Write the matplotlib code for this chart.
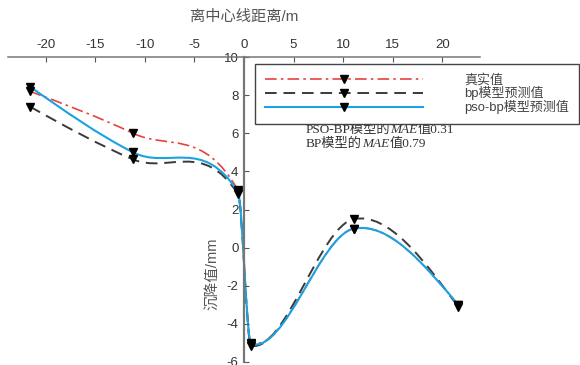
import matplotlib.pyplot as plt
import numpy as np
from matplotlib.path import Path
from matplotlib.patches import PathPatch
from matplotlib.lines import Line2D
from matplotlib.offsetbox import TextArea, HPacker, AnnotationBbox

plt.rcParams['axes.unicode_minus'] = False

# 离中心线距离 (m) and 沉降值 (mm)
dist = [-21.6, -11.2, -0.6, 0.7, 11.1, 21.6]
real = [8.2, 6.0, 3.0, -5.0, 1.0, -3.0]
bp_pred = [7.4, 4.63, 2.8, -5.15, 1.5, -3.1]
pso_pred = [8.45, 5.0, 2.9, -5.05, 1.0, -3.0]
labels = ['真实值', 'bp模型预测值', 'pso-bp模型预测值']
mae_pso = '0.31'
mae_bp = '0.79'

cjk = ['Liberation Sans', 'Noto Sans CJK SC']
serif = ['Liberation Serif', 'Noto Sans CJK SC']


def smooth_path(x, y):
    # smooth bezier curve through the measured points
    x = np.asarray(x, float)
    y = np.asarray(y, float)
    d = np.diff(y) / np.diff(x)
    m = np.empty_like(x)
    m[1:-1] = (y[2:] - y[:-2]) / (x[2:] - x[:-2])
    m[0] = (3 * d[0] - m[1]) / 2
    m[-1] = (3 * d[-1] - m[-2]) / 2
    verts = [(x[0], y[0])]
    codes = [Path.MOVETO]
    for i in range(len(x) - 1):
        h = (x[i + 1] - x[i]) / 3
        verts += [(x[i] + h, y[i] + h * m[i]),
                  (x[i + 1] - h, y[i + 1] - h * m[i + 1]),
                  (x[i + 1], y[i + 1])]
        codes += [Path.CURVE4] * 3
    return Path(verts, codes)


fig = plt.figure(figsize=(5.8, 3.65), dpi=100)
ax = fig.add_axes([8 / 580, 3 / 365, 472 / 580, 305 / 365])

styles = [
    dict(color='#e8413f', lw=1.2, ls=(0, (7, 2.5, 1.5, 2.5))),
    dict(color='#3a3a3a', lw=1.4, ls=(0, (6, 3.5))),
    dict(color='#1aa3e0', lw=1.5, ls='-'),
]
series = [real, bp_pred, pso_pred]

for ys, st in zip(series, styles):
    ax.add_patch(PathPatch(smooth_path(dist, ys), fill=False, edgecolor=st['color'],
                           lw=st['lw'], ls=st['ls']))
for ys in series:
    ax.plot(dist, ys, ls='none', marker='v', ms=5.5, color='k', zorder=5)

ax.set_xlim(-23.8, 23.8)
ax.set_ylim(-6, 10)
ax.set_xticks(np.arange(-20, 21, 5))
ax.set_yticks(np.arange(-6, 11, 2))

ax.spines['left'].set_position(('data', 0))
ax.spines['right'].set_visible(False)
ax.spines['bottom'].set_visible(False)
ax.spines['left'].set_color('#777')
ax.spines['left'].set_linewidth(1.6)
ax.spines['top'].set_color('#777')
ax.spines['top'].set_linewidth(1.1)
ax.xaxis.tick_top()
ax.tick_params(direction='in', length=3.5, width=0.8, colors='#555', labelsize=9.5,
               labelcolor='#333', pad=4)
for t in ax.get_xticklabels() + ax.get_yticklabels():
    t.set_family('Liberation Sans')

fig.text(244 / 580, 1 - 17 / 365, '离中心线距离/m', family=cjk, size=11, color='#555',
         ha='center', va='center')
fig.text(213 / 580, 1 - 274 / 365, '沉降值/mm', family=cjk, size=10.5, color='#555',
         rotation=90, ha='center', va='center')

handles = [Line2D([], [], color=st['color'], lw=st['lw'], ls=st['ls'], marker='v', ms=5.5,
                  mfc='k', mec='k') for st in styles]
leg = fig.legend(handles, labels, loc='upper left', bbox_to_anchor=(255 / 580, 1 - 64 / 365),
                 borderaxespad=0, frameon=True, fancybox=False, edgecolor='#444', framealpha=1,
                 handlelength=12.1, handletextpad=3.2, borderpad=0.75, labelspacing=-0.02,
                 numpoints=1, prop={'family': cjk, 'size': 9.4})
leg.get_frame().set_linewidth(1.0)
for t in leg.get_texts():
    t.set_color('#444')


def mae_line(name, value, y):
    tp = dict(family=serif, size=9.5, color='#333')
    parts = [TextArea(name + '模型的', textprops=tp),
             TextArea('MAE', textprops=dict(tp, style='italic')),
             TextArea('值' + value, textprops=tp)]
    box = HPacker(children=parts, align='baseline', pad=0, sep=0)
    ab = AnnotationBbox(box, (306 / 580, 1 - y / 365), xycoords='figure fraction',
                        box_alignment=(0, 0.5), frameon=False, pad=0)
    fig.add_artist(ab)


mae_line('PSO-BP', mae_pso, 130)
mae_line('BP', mae_bp, 144)

fig.savefig('out.png', dpi=100)
